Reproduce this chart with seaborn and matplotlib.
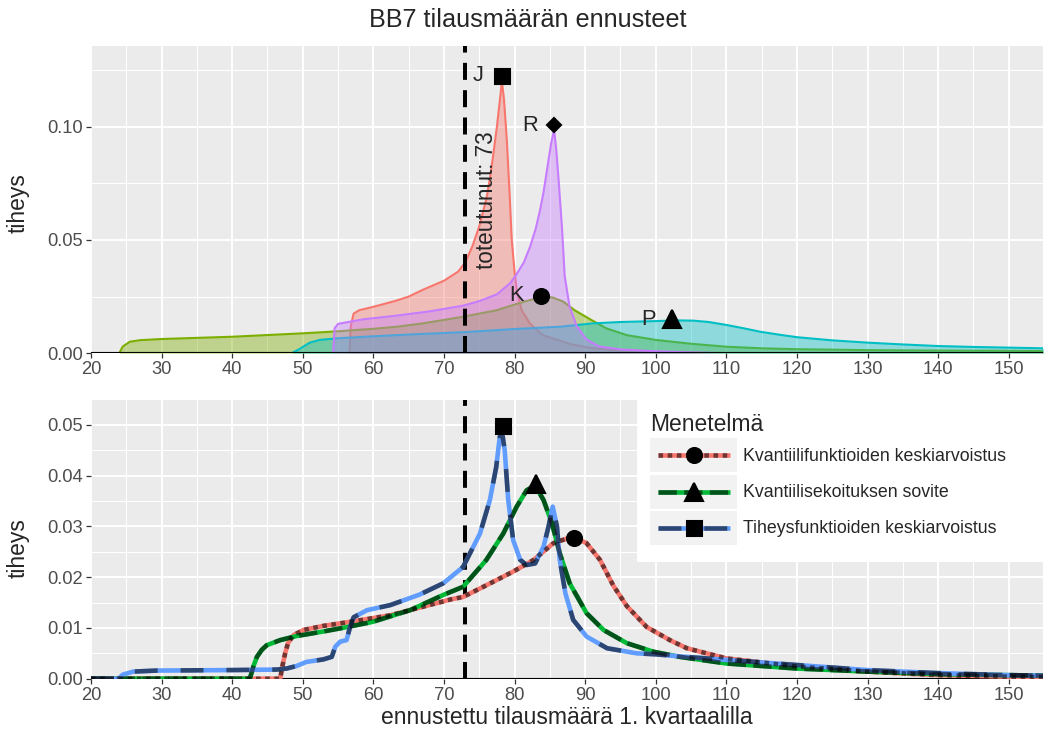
import numpy as np
import pandas as pd
import matplotlib
matplotlib.use("Agg")
import matplotlib.pyplot as plt
import seaborn as sns
from matplotlib.lines import Line2D
from matplotlib.patches import Rectangle
from matplotlib.legend_handler import HandlerBase
from matplotlib.ticker import MultipleLocator, FormatStrFormatter

# ---------------- data: top panel (individual forecasts) ----------------
top_names = ["J", "K", "P", "R"]
top_colors = ["#F8766D", "#7CAE00", "#00BFC4", "#C77CFF"]

J_x = [56.6, 56.8, 57.2, 58.0, 60.0, 63.0, 65.0, 67.0, 70.0, 72.0, 73.0, 74.0, 75.0, 76.0,
       76.5, 77.0, 77.5, 78.0, 78.2, 78.5, 78.9, 79.3, 79.6, 80.0, 80.3, 81.0, 82.2, 84.0,
       86.0, 88.0, 90.7, 95.0, 100.0, 110.0]
J_y = [0.0, 0.012, 0.0175, 0.019, 0.0205, 0.023, 0.025, 0.028, 0.032, 0.036, 0.040, 0.047,
       0.056, 0.068, 0.077, 0.088, 0.100, 0.114, 0.120, 0.112, 0.094, 0.070, 0.050, 0.036,
       0.028, 0.019, 0.013, 0.008, 0.006, 0.004, 0.0024, 0.0012, 0.0006, 0.0]

K_x = [24.0, 24.5, 25.5, 27.0, 30.0, 40.0, 50.0, 55.0, 60.0, 63.3, 67.0, 70.0, 72.7, 75.0,
       77.5, 80.0, 82.2, 83.5, 84.5, 85.5, 86.9, 88.5, 90.7, 93.0, 95.9, 100.0, 105.0, 110.0,
       115.0, 120.0, 130.0, 140.0, 150.0, 155.0]
K_y = [0.0, 0.003, 0.0051, 0.0058, 0.0063, 0.0073, 0.0088, 0.0097, 0.0108, 0.0117, 0.0132,
       0.0147, 0.0161, 0.0175, 0.019, 0.0215, 0.0235, 0.0245, 0.025, 0.0245, 0.0228, 0.019,
       0.015, 0.011, 0.008, 0.0059, 0.0042, 0.0029, 0.0022, 0.0018, 0.0014, 0.0012, 0.0011,
       0.001]

P_x = [48.4, 49.5, 50.1, 51.0, 52.4, 54.8, 60.0, 65.2, 72.7, 80.0, 86.4, 91.1, 95.0, 100.0,
       103.0, 105.3, 107.5, 110.0, 112.5, 114.8, 117.5, 120.0, 125.0, 130.0, 135.0, 140.0,
       145.0, 150.0, 155.0]
P_y = [0.0, 0.0018, 0.003, 0.0047, 0.0059, 0.0066, 0.0075, 0.0083, 0.0093, 0.0107, 0.0117,
       0.0132, 0.0138, 0.0142, 0.0145, 0.0144, 0.0138, 0.0125, 0.011, 0.0095, 0.0082, 0.0071,
       0.0057, 0.0047, 0.0039, 0.0032, 0.0028, 0.0025, 0.0022]

R_x = [54.3, 54.5, 55.0, 58.6, 63.0, 68.0, 72.7, 75.0, 77.5, 79.4, 80.3, 81.3, 82.2, 83.0,
       83.6, 84.1, 84.5, 84.9, 85.2, 85.6, 85.9, 86.2, 86.7, 87.1, 87.8, 88.8, 90.2, 92.0,
       95.0, 100.0, 105.0, 110.0]
R_y = [0.0, 0.011, 0.013, 0.015, 0.0165, 0.0185, 0.021, 0.023, 0.026, 0.031, 0.035, 0.040,
       0.047, 0.055, 0.063, 0.071, 0.079, 0.087, 0.093, 0.0985, 0.090, 0.078, 0.056, 0.034,
       0.0205, 0.012, 0.006, 0.003, 0.0017, 0.0009, 0.0004, 0.0]

top_marker_x = [78.2, 83.7, 102.3, 85.6]
top_marker_y = [0.1223, 0.0253, 0.0151, 0.1006]
top_markers = ["s", "o", "^", "D"]

actual_value = 73
actual_label = "toteutunut: 73"
actual_label_y = 0.0676

# ---------------- data: bottom panel (combination methods) ----------------
methods = ["Kvantiilifunktioiden keskiarvoistus",
           "Kvantiilisekoituksen sovite",
           "Tiheysfunktioiden keskiarvoistus"]
method_colors = ["#F8766D", "#00BA38", "#619CFF"]

A_x = [20.0, 46.8, 47.1, 47.5, 47.9, 48.7, 50.1, 52.9, 56.7, 62.4, 67.1, 70.9, 72.7, 76.0,
       79.8, 82.7, 85.5, 87.4, 88.3, 90.2, 92.1, 94.0, 95.9, 98.7, 102.0, 104.4, 110.0,
       120.0, 130.0, 140.0, 150.0, 155.0]
A_y = [0.0, 0.0, 0.0024, 0.005, 0.007, 0.0086, 0.0096, 0.0104, 0.0112, 0.0125, 0.0142,
       0.0156, 0.0161, 0.0184, 0.0211, 0.0234, 0.0267, 0.0276, 0.0279, 0.0267, 0.0234,
       0.0183, 0.0143, 0.0102, 0.0076, 0.006, 0.004, 0.0024, 0.0014, 0.0007, 0.0004, 0.0003]

B_x = [20.0, 42.5, 43.0, 43.5, 44.2, 44.9, 46.8, 49.1, 52.9, 56.0, 59.9, 65.2, 69.9, 72.7,
       76.0, 78.4, 80.3, 81.7, 82.9, 84.1, 85.3, 86.4, 87.8, 90.2, 92.6, 95.9, 99.7, 103.4,
       110.0, 120.0, 130.0, 140.0, 150.0, 155.0]
B_y = [0.0, 0.0, 0.0024, 0.0043, 0.0057, 0.0066, 0.0076, 0.0084, 0.0093, 0.0101, 0.0112,
       0.0135, 0.0165, 0.0181, 0.0234, 0.0286, 0.0339, 0.0371, 0.0381, 0.0352, 0.0306,
       0.0247, 0.0188, 0.0129, 0.0096, 0.007, 0.0053, 0.0043, 0.003, 0.002, 0.0014, 0.0009,
       0.0007, 0.0006]

C_x = [20.0, 23.9, 24.5, 26.0, 29.3, 40.0, 46.3, 47.7, 49.1, 50.5, 52.9, 54.1, 54.6, 55.3,
       56.2, 56.7, 57.2, 59.1, 62.4, 66.6, 69.9, 72.7, 75.1, 76.5, 77.4, 77.9, 78.2, 78.6,
       79.1, 79.8, 80.8, 81.7, 82.9, 84.1, 84.8, 85.4, 86.0, 86.4, 87.2, 88.3, 90.2, 93.1,
       97.3, 100.0, 103.4, 110.0, 120.0, 130.0, 140.0, 150.0, 155.0]
C_y = [0.0, 0.0, 0.0008, 0.0014, 0.0016, 0.0017, 0.0018, 0.002, 0.0025, 0.0033, 0.0038,
       0.0043, 0.0063, 0.0073, 0.0076, 0.0102, 0.0121, 0.0135, 0.0145, 0.0166, 0.0188, 0.022,
       0.0286, 0.0352, 0.0417, 0.0476, 0.0488, 0.045, 0.0352, 0.0273, 0.0234, 0.0224, 0.0227,
       0.026, 0.0299, 0.0339, 0.030, 0.0234, 0.0168, 0.0116, 0.0083, 0.006, 0.005, 0.0048,
       0.0044, 0.0037, 0.0027, 0.0017, 0.0011, 0.0007, 0.0006]

bottom_marker_x = [88.4, 83.0, 78.3]
bottom_marker_y = [0.0277, 0.0384, 0.0497]
bottom_markers = ["o", "^", "s"]

x_ticks = [20, 30, 40, 50, 60, 70, 80, 90, 100, 110, 120, 130, 140, 150]

# ---------------- frames ----------------
top_df = pd.concat([
    pd.DataFrame({"x": xs, "y": ys, "ennuste": n})
    for n, xs, ys in zip(top_names, [J_x, K_x, P_x, R_x], [J_y, K_y, P_y, R_y])
], ignore_index=True)
bot_df = pd.concat([
    pd.DataFrame({"x": xs, "y": ys, "Menetelmä": m})
    for m, xs, ys in zip(methods, [A_x, B_x, C_x], [A_y, B_y, C_y])
], ignore_index=True)

# ---------------- style ----------------
sns.set_theme(style="darkgrid")
plt.rcParams["font.family"] = ["Liberation Sans", "DejaVu Sans"]

W, H, DPI = 1046, 736, 150
fig = plt.figure(figsize=(W / DPI, H / DPI), dpi=DPI)
fig.patch.set_facecolor("white")

def fx(px):
    return px / W

def fy(py):
    return 1 - py / H

L, R = 91, 1043
ax1 = fig.add_axes([fx(L), fy(353.3), fx(R) - fx(L), fy(46) - fy(353.3)])
ax2 = fig.add_axes([fx(L), fy(678.7), fx(R) - fx(L), fy(400) - fy(678.7)])

def style(ax, ymax, ymaj, ymin):
    ax.set_facecolor("#EBEBEB")
    ax.set_xlim(20, 154.85)
    ax.set_ylim(0, ymax)
    ax.set_xticks(x_ticks)
    ax.xaxis.set_minor_locator(MultipleLocator(5))
    ax.yaxis.set_major_locator(MultipleLocator(ymaj))
    ax.yaxis.set_minor_locator(MultipleLocator(ymin))
    ax.yaxis.set_major_formatter(FormatStrFormatter("%.2f"))
    ax.grid(which="major", color="white", lw=0.95)
    ax.grid(which="minor", color="white", lw=0.48)
    ax.set_axisbelow(True)
    for s in ax.spines.values():
        s.set_visible(False)
    ax.tick_params(which="major", length=2.3, width=0.6, color="#333333",
                   labelsize=8.8, labelcolor="#4D4D4D", pad=1.5,
                   bottom=True, left=True)
    ax.tick_params(which="minor", length=0)
    ax.set_xlabel("")
    ax.set_ylabel("")

# ---------------- top panel ----------------
for i, (n, c) in enumerate(zip(top_names, top_colors)):
    d = top_df[top_df["ennuste"] == n]
    ax1.fill_between(d["x"], d["y"], 0, color=c, alpha=0.4, lw=0, zorder=2 + 2 * i)
    sns.lineplot(data=d, x="x", y="y", color=c, lw=1.0, ax=ax1, sort=False,
                 estimator=None, zorder=2.5 + 2 * i)

ax1.axvline(actual_value, color="black", lw=1.9, linestyle=(0, (4.3, 2.6)), zorder=20)
ax1.axhline(0, color="black", lw=1.5, zorder=21)
for n, mx, my, mk in zip(top_names, top_marker_x, top_marker_y, top_markers):
    ms = 4.6 if mk == "D" else (8.2 if mk == "^" else 7.2)
    ax1.plot([mx], [my], marker=mk, ms=ms, color="black", ls="none", zorder=22)
    ax1.annotate(n, (mx, my), xytext=(-24, 0), textcoords="offset pixels",
                 ha="center", va="center", fontsize=10.5, zorder=23)
ax1.annotate(actual_label, (actual_value, actual_label_y), xytext=(21, 0),
             textcoords="offset pixels", rotation=90, ha="center", va="center",
             fontsize=10.8, zorder=23)
style(ax1, 0.1355, 0.05, 0.025)

# ---------------- bottom panel ----------------
dash_styles = [(0, (1.0, 1.0)), (0, (4.0, 1.6)), (0, (5.0, 5.0))]
ax2.axvline(actual_value, color="black", lw=1.9, linestyle=(0, (4.3, 2.6)), zorder=3)
ax2.axhline(0, color="black", lw=1.5, zorder=4)
for i, (m, c) in enumerate(zip(methods, method_colors)):
    d = bot_df[bot_df["Menetelmä"] == m]
    sns.lineplot(data=d, x="x", y="y", color=c, lw=2.2, ax=ax2, sort=False,
                 estimator=None, zorder=5 + i, solid_capstyle="butt")
for i, (m, ds) in enumerate(zip(methods, dash_styles)):
    d = bot_df[bot_df["Menetelmä"] == m]
    sns.lineplot(data=d, x="x", y="y", color="black", alpha=0.55, lw=2.2, ax=ax2,
                 sort=False, estimator=None, zorder=8 + i, linestyle=ds)
for mx, my, mk in zip(bottom_marker_x, bottom_marker_y, bottom_markers):
    ms = 8.2 if mk == "^" else 7.2
    ax2.plot([mx], [my], marker=mk, ms=ms, color="black", ls="none", zorder=12)
style(ax2, 0.0549, 0.01, 0.005)

# ---------------- legend ----------------
class KeyHandler(HandlerBase):
    def __init__(self, base, dash, marker, ms):
        super().__init__()
        self.base, self.dash, self.marker, self.ms = base, dash, marker, ms

    def create_artists(self, legend, orig_handle, xdescent, ydescent, width, height,
                       fontsize, trans):
        x0, y0 = -xdescent, -ydescent
        rect = Rectangle((x0, y0), width, height, facecolor="#F2F2F2",
                         edgecolor="none", transform=trans)
        ym = y0 + height / 2
        xs = [x0 + 0.09 * width, x0 + 0.91 * width]
        l1 = Line2D(xs, [ym, ym], color=self.base, lw=2.2, solid_capstyle="butt",
                    transform=trans)
        l2 = Line2D(xs, [ym, ym], color="black", alpha=0.55, lw=2.2,
                    linestyle=self.dash, transform=trans)
        mk = Line2D([x0 + width / 2], [ym], marker=self.marker, ms=self.ms,
                    color="black", ls="none", transform=trans)
        return [rect, l1, l2, mk]

handles = [Line2D([], []) for _ in methods]
hmap = {h: KeyHandler(c, ds, mk, 8.2 if mk == "^" else 7.2)
        for h, c, ds, mk in zip(handles, method_colors, dash_styles, bottom_markers)}
leg = ax2.legend(handles=handles, labels=methods, handler_map=hmap, title="Menetelmä",
                 loc="upper left", bbox_to_anchor=(fx(637), fy(400)),
                 bbox_transform=fig.transFigure, frameon=True, fancybox=False,
                 framealpha=1, facecolor="white", edgecolor="white", fontsize=8.5,
                 title_fontsize=11, handlelength=4.92, handleheight=2.58,
                 labelspacing=0.12, handletextpad=0.34, borderpad=0.75,
                 borderaxespad=0, alignment="left")
leg.get_frame().set_linewidth(0)
leg.set_zorder(30)
# white legend background reaching the right edge of the figure
ax2.add_patch(Rectangle((fx(637), fy(562)), 1 - fx(637), fy(400) - fy(562),
                        transform=fig.transFigure, facecolor="white", edgecolor="none",
                        clip_on=False, zorder=29))

# ---------------- titles ----------------
fig.text(fx(528), fy(20), "BB7 tilausmäärän ennusteet", ha="center", va="center",
         fontsize=12.1)
fig.text(fx(18), fy(203), "tiheys", rotation=90, ha="center", va="center", fontsize=11)
fig.text(fx(18), fy(548), "tiheys", rotation=90, ha="center", va="center", fontsize=11)
fig.text(fx(567), fy(718), "ennustettu tilausmäärä 1. kvartaalilla", ha="center",
         va="center", fontsize=11)

fig.savefig("out.png", dpi=DPI, facecolor="white")
